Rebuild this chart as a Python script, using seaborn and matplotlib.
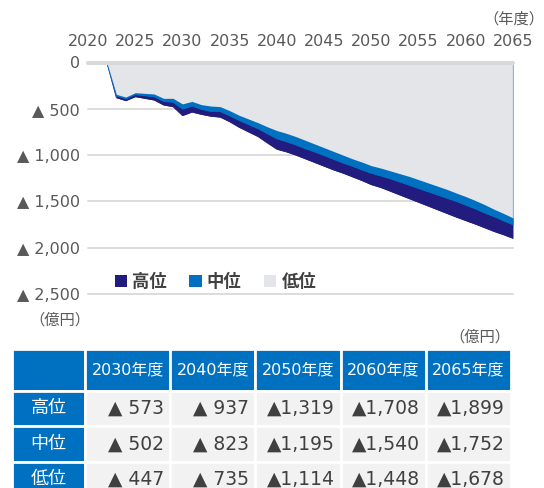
import numpy as np
import pandas as pd
import matplotlib
matplotlib.use('Agg')
import matplotlib.pyplot as plt
import seaborn as sns

years = list(range(2022, 2066))
high = [0, 380, 412, 369, 387, 405, 459, 477, 573, 535,
        560, 580, 590, 640, 700, 750, 800, 870, 937, 965,
        1000, 1040, 1080, 1120, 1160, 1195, 1235, 1275, 1319, 1350,
        1390, 1430, 1470, 1510, 1550, 1590, 1630, 1670, 1708, 1745,
        1785, 1825, 1860, 1899]
mid = [0, 360, 392, 345, 358, 370, 420, 428, 502, 470,
       505, 525, 530, 575, 625, 670, 715, 770, 823, 855,
       890, 930, 965, 1005, 1045, 1085, 1120, 1160, 1195, 1225,
       1255, 1290, 1325, 1360, 1395, 1430, 1465, 1500, 1540, 1580,
       1625, 1665, 1710, 1752]
low = [0, 344, 373, 326, 333, 340, 387, 387, 447, 420,
       455, 470, 477, 520, 570, 610, 650, 695, 735, 765,
       800, 840, 880, 920, 960, 1000, 1040, 1075, 1114, 1140,
       1170, 1200, 1230, 1265, 1300, 1335, 1370, 1410, 1448, 1490,
       1535, 1585, 1630, 1678]

series_names = ['高位', '中位', '低位']
colors = ['#211C7E', '#0070C0', '#E4E5E8']

xticks = list(range(2020, 2066, 5))
yticks = [0, 500, 1000, 1500, 2000, 2500]
ytick_labels = ['0', '▲ 500', '▲ 1,000', '▲ 1,500', '▲ 2,000', '▲ 2,500']

table_cols = ['2030年度', '2040年度', '2050年度', '2060年度', '2065年度']
table_high = ['▲ 573', '▲ 937', '▲1,319', '▲1,708', '▲1,899']
table_mid = ['▲ 502', '▲ 823', '▲1,195', '▲1,540', '▲1,752']
table_low = ['▲ 447', '▲ 735', '▲1,114', '▲1,448', '▲1,678']

df = pd.DataFrame({'year': years, '高位': high, '中位': mid, '低位': low})

sns.set_theme(style='white')
plt.rcParams['font.family'] = ['DejaVu Sans', 'Noto Sans CJK JP']
txt = '#595959'

fig = plt.figure(figsize=(5.44, 4.88), dpi=100)
ax = fig.add_axes([88/544, 1-294/488, 425/544, 231.5/488])

handles = []
for name, c in zip(series_names, colors):
    h = ax.fill_between(df['year'], 0, df[name], color=c, lw=0, label=name, zorder=2)
    handles.append(h)
    if name != '低位':
        sns.lineplot(data=df, x='year', y=name, color=c, lw=0.6, ax=ax, zorder=2)
ax.vlines(years[-1], 0, low[-1], color='#9DC3E6', lw=1, zorder=3)

ax.set_xlim(2020, 2065)
ax.set_ylim(2500, 0)
ax.xaxis.tick_top()
ax.set_xticks(xticks)
ax.set_yticks(yticks)
ax.set_yticklabels(ytick_labels)
ax.tick_params(axis='both', length=0, labelsize=11.5, colors=txt)
ax.tick_params(axis='x', pad=10)
ax.tick_params(axis='y', pad=6)
ax.grid(axis='y', color='#D9D9D9', lw=1.3)
ax.set_axisbelow(True)
for gl in ax.get_ygridlines():
    gl.set_clip_on(False)
ax.axhline(0, color='#D9D9D9', lw=3, zorder=4, clip_on=False)
for s in ax.spines.values():
    s.set_visible(False)
ax.set_xlabel('')
ax.set_ylabel('')

ax.legend(handles=handles, labels=series_names, loc='center', bbox_to_anchor=(0.3, 0.052),
          ncol=3, frameon=False, prop={'weight': 'bold', 'size': 12.5},
          handlelength=0.7, handleheight=0.7, handletextpad=0.3, columnspacing=1.3,
          labelcolor='#404040')

fig.text(544/544, 1-19/488, '（年度）', ha='right', va='center', fontsize=11, color=txt)
fig.text(60/544, 1-320/488, '（億円）', ha='center', va='center', fontsize=11, color=txt)
fig.text(510/544, 1-337/488, '（億円）', ha='right', va='center', fontsize=11, color=txt)

# table below the chart
ax_t = fig.add_axes([12/544, 1-497/488, 499/544, 148/488])
ax_t.axis('off')
cell_text = [[''] + table_cols,
             ['高位'] + table_high,
             ['中位'] + table_mid,
             ['低位'] + table_low]
col_w = np.array([73] + [85.2]*5)
tbl = ax_t.table(cellText=cell_text, bbox=[0, 0, 1, 1], colWidths=list(col_w/col_w.sum()))
tbl.auto_set_font_size(False)
for (r, c), cell in tbl.get_celld().items():
    cell.set_edgecolor('white')
    cell.set_linewidth(2)
    cell.set_height(41.5 if r == 0 else 35.5)
    t = cell.get_text()
    if r == 0 or c == 0:
        cell.set_facecolor('#0070C0')
        cell._loc = 'center'
        t.set_ha('center')
        t.set_color('white')
        t.set_fontsize(11.5 if r == 0 else 13)
    else:
        cell.set_facecolor('#F2F2F2')
        cell._loc = 'right'
        cell.PAD = 0.07
        t.set_ha('right')
        t.set_color('#404040')
        t.set_fontsize(13.5)

fig.savefig('out.png', dpi=100)
